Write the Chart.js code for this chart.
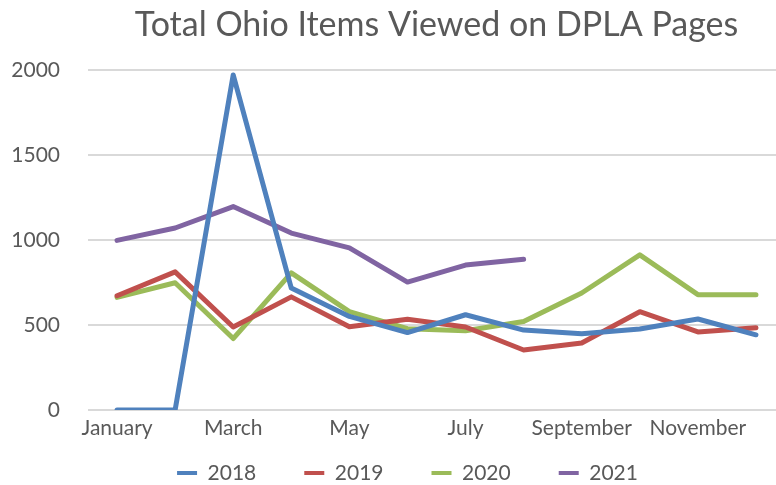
<!DOCTYPE html>
<html>
<head>
<meta charset="utf-8">
<script src="https://cdn.jsdelivr.net/npm/chart.js@4.4.0/dist/chart.umd.min.js"></script>
<style>
  html, body { margin: 0; padding: 0; background: #fff; overflow: hidden; }
  #wrap { width: 800px; height: 485px; position: relative; }
</style>
</head>
<body>
<div id="wrap"><canvas id="c"></canvas></div>
<script>
const months = ["January","February","March","April","May","June","July","August","September","October","November","December"];
const y2018 = [0, 0, 1970, 717, 550, 455, 560, 470, 448, 476, 535, 442];
const y2019 = [672, 812, 488, 665, 490, 533, 488, 353, 394, 578, 459, 484];
const y2020 = [662, 748, 420, 806, 578, 478, 466, 520, 688, 912, 678, 678];
const y2021 = [997, 1070, 1196, 1040, 953, 752, 852, 886, null, null, null, null];
const yTicks = [0, 500, 1000, 1500, 2000];
const seriesNames = ["2018", "2019", "2020", "2021"];
const colors = ["#4F81BD", "#C0504D", "#9BBB59", "#8064A2"];

const FONT = "Lato, 'Open Sans', sans-serif";
const TXT = "#595959";
const LEGEND_PAD = 48;
const LEGEND_FONT = 21;

const allData = [y2018, y2019, y2020, y2021];
const datasets = allData.map((d, i) => ({
  label: seriesNames[i],
  data: d,
  borderColor: colors[i],
  backgroundColor: colors[i],
  borderWidth: 5,
  pointRadius: 0,
  pointHoverRadius: 0,
  tension: 0,
  borderCapStyle: 'round',
  borderJoinStyle: 'round',
  spanGaps: false
}));

// keeps the legend compact vertically while allowing wide item spacing
const legendPlacer = {
  id: 'legendPlacer',
  beforeInit(chart) {
    const lg = chart.legend;
    if (lg && !lg._patched) {
      const origFit = lg.fit;
      lg.fit = function () { origFit.call(this); this.height = 37; };
      lg._patched = true;
    }
  },
  afterLayout(chart) {
    const lg = chart.legend;
    const wantCenter = 473;
    lg.top = wantCenter - LEGEND_PAD - LEGEND_FONT / 2;
    lg.left += 15; lg.right += 15;
  }
};

new Chart(document.getElementById('c'), {
  type: 'line',
  data: { labels: months, datasets },
  plugins: [legendPlacer],
  options: {
    responsive: true,
    maintainAspectRatio: false,
    animation: false,
    layout: { padding: { left: 0, right: 15, top: 0, bottom: 0 } },
    plugins: {
      tooltip: { enabled: false },
      title: {
        display: true,
        text: "Total Ohio Items Viewed on DPLA Pages",
        fullSize: false,
        color: TXT,
        font: { family: FONT, size: 34, weight: 'normal' },
        padding: { top: 5, bottom: 24 }
      },
      legend: {
        position: 'bottom',
        labels: {
          color: TXT,
          font: { family: FONT, size: LEGEND_FONT },
          boxWidth: 20,
          boxHeight: 4,
          padding: LEGEND_PAD,
          generateLabels(chart) {
            const items = Chart.defaults.plugins.legend.labels.generateLabels(chart);
            items.forEach(it => { it.lineWidth = 0; it.strokeStyle = 'rgba(0,0,0,0)'; });
            return items;
          }
        }
      }
    },
    scales: {
      x: {
        offset: true,
        afterFit(scale) { scale.height = 38; },
        grid: { display: false, drawTicks: false },
        border: { display: false },
        ticks: {
          color: TXT,
          font: { family: FONT, size: 21 },
          maxRotation: 0,
          autoSkip: false,
          padding: 6,
          callback(v, i) { return i % 2 === 0 ? months[i] : ''; }
        }
      },
      y: {
        min: 0,
        max: 2000,
        afterBuildTicks(scale) { scale.ticks = yTicks.map(v => ({ value: v })); },
        afterFit(scale) { scale.width = 88; },
        grid: { color: '#D9D9D9', lineWidth: 2, drawTicks: false },
        border: { display: false },
        ticks: {
          color: TXT,
          font: { family: FONT, size: 21 },
          padding: 28,
          callback(v) { return String(v); }
        }
      }
    }
  }
});
</script>
</body>
</html>
